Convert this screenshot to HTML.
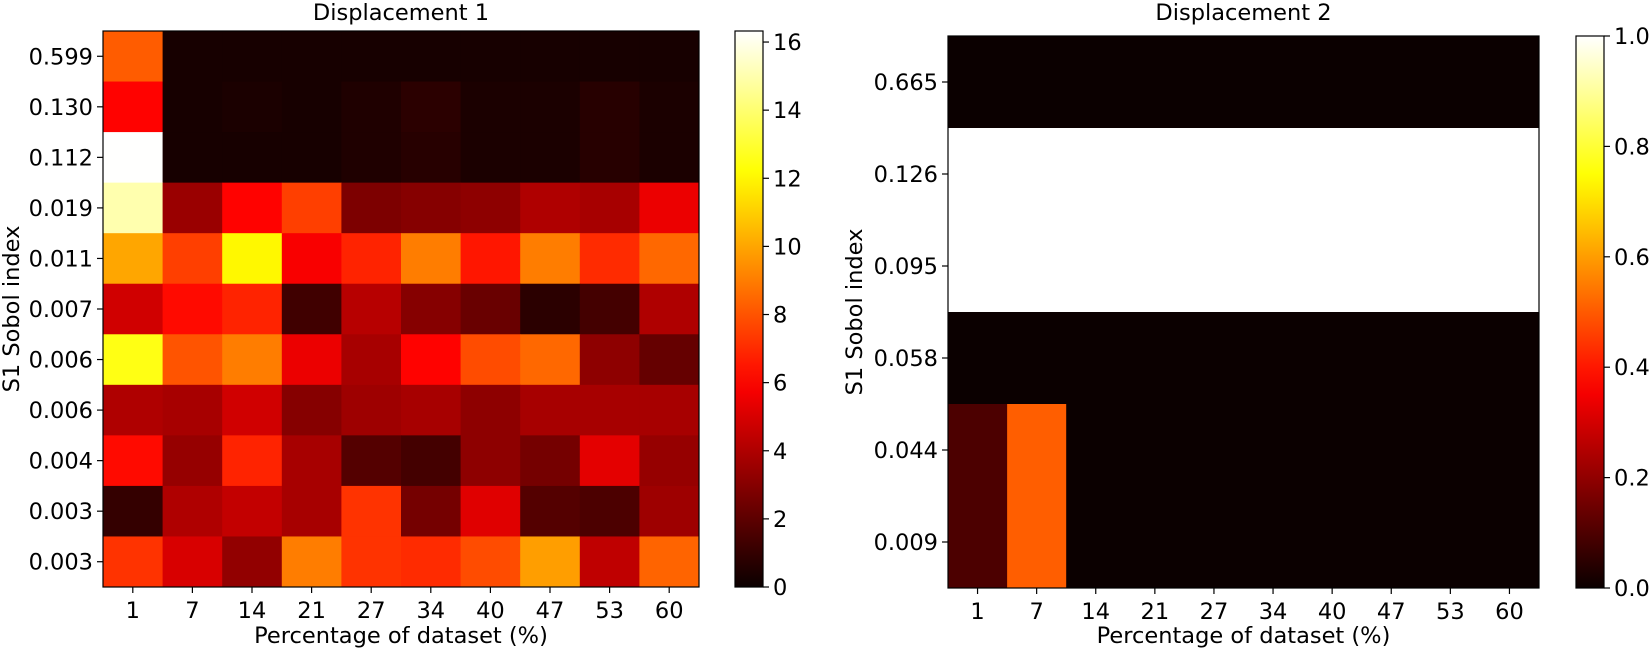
<!DOCTYPE html>
<html><head><meta charset="utf-8"><style>
body{margin:0;background:#fff}
svg text{font-family:"DejaVu Sans","Liberation Sans",sans-serif;font-size:22.5px;fill:#000}
</style></head><body>
<svg id="s" width="1650" height="650" xmlns="http://www.w3.org/2000/svg"></svg>
<script>
function hot(x){x=Math.max(0,Math.min(1,x));
var r=x<0.365?0.0416+(1-0.0416)*x/0.365:1;
var g=x<0.365?0:(x<0.746?(x-0.365)/0.381:1);
var b=x<0.746?0:(x-0.746)/0.254;
return 'rgb('+Math.round(r*255)+','+Math.round(g*255)+','+Math.round(b*255)+')';}
var s='';
function rect(x,y,w,h,f,ex){s+='<rect x="'+x+'" y="'+y+'" width="'+w+'" height="'+h+'" fill="'+f+'" '+(ex||'')+'/>';}
function txt(x,y,t,a,ex){s+='<text x="'+x+'" y="'+y+'" text-anchor="'+(a||'middle')+'" '+(ex||'')+'>'+t+'</text>';}
function line(x1,y1,x2,y2){s+='<line x1="'+x1+'" y1="'+y1+'" x2="'+x2+'" y2="'+y2+'" stroke="#000" stroke-width="1.2"/>';}
var xl=[1,7,14,21,27,34,40,47,53,60];
var V=[[8.2,.3,.3,.3,.3,.3,.3,.3,.3,.3],
[6,.3,.4,.3,.5,.8,.4,.4,.7,.4],
[16.3,.3,.3,.3,.5,.7,.4,.4,.7,.4],
[15,3.5,6,7.5,2.8,3,3.2,4,3.8,5.5],
[10,7.5,12,5.8,6.8,9,6.5,9,7,8.5],
[4.8,6.2,6.8,1.3,4.2,3,2.3,.8,1.4,4],
[12.5,8,9,5.5,3.8,6,7.8,8.5,3.2,2.2],
[4,3.8,4.8,3,3.6,3.8,3.2,3.8,3.8,3.8],
[6.2,3.4,6.8,3.8,1.8,1.4,3.2,2.6,5.3,3.4],
[1,4,4.5,3.8,7.2,2.6,5.2,1.8,1.6,3.6],
[7.2,5,3.3,9,7.2,7,7.8,9.8,4.4,8.4]];
var yl=['0.599','0.130','0.112','0.019','0.011','0.007','0.006','0.006','0.004','0.003','0.003'];
var L=103,T=31,W=596,H=556,cw=W/10,rh=H/11;
for(var r=0;r<11;r++)for(var c=0;c<10;c++)rect(L+c*cw,T+r*rh,cw+0.5,rh+0.5,hot(V[r][c]/16.32));
rect(L,T,W,H,'none','stroke="#000" stroke-width="1.2"');
for(var r=0;r<11;r++){var y=T+(r+.5)*rh;line(L-6,y,L,y);txt(L-10,y+8,yl[r],'end');}
for(var c=0;c<10;c++){var x=L+(c+.5)*cw;line(x,T+H,x,T+H+6);txt(x,618,xl[c]);}
txt(L+W/2,20,'Displacement 1');txt(L+W/2,643,'Percentage of dataset (%)');
txt(0,0,'S1 Sobol index','middle','transform="translate(19,'+(T+H/2)+') rotate(-90)"');
var g='<defs><linearGradient id="hg" x1="0" y1="1" x2="0" y2="0">';
for(var i=0;i<=20;i++)g+='<stop offset="'+(i/20)+'" stop-color="'+hot(i/20)+'"/>';
g+='</linearGradient></defs>';s=g+s;
rect(735,31,28,556,'url(#hg)','stroke="#000" stroke-width="1.2"');
for(var v=0;v<=16;v+=2){var y=587-v*34.06;line(763,y,769,y);txt(773,y+8,v,'start');}
var L2=948,T2=36,W2=591,H2=552,cw2=W2/10,rh2=H2/6;
rect(L2,T2,W2,H2,hot(0));
rect(L2,T2+rh2,W2,2*rh2,'#fff');
rect(L2,T2+4*rh2,cw2,2*rh2,'rgb(76,0,0)');
rect(L2+cw2,T2+4*rh2,cw2,2*rh2,'rgb(255,94,0)');
rect(L2,T2,W2,H2,'none','stroke="#000" stroke-width="1.2"');
var yl2=['0.665','0.126','0.095','0.058','0.044','0.009'];
for(var r=0;r<6;r++){var y=T2+(r+.5)*rh2;line(L2-6,y,L2,y);txt(L2-10,y+8,yl2[r],'end');}
for(var c=0;c<10;c++){var x=L2+(c+.5)*cw2;line(x,T2+H2,x,T2+H2+6);txt(x,619,xl[c]);}
txt(L2+W2/2,20,'Displacement 2');txt(L2+W2/2,643,'Percentage of dataset (%)');
txt(0,0,'S1 Sobol index','middle','transform="translate(862,'+(T2+H2/2)+') rotate(-90)"');
rect(1576,36,28,552,'url(#hg)','stroke="#000" stroke-width="1.2"');
for(var i=0;i<=5;i++){var y=588-i*0.2*552;line(1604,y,1610,y);txt(1614,y+8,(i*0.2).toFixed(1),'start');}
document.getElementById('s').innerHTML=s;
</script>
</body></html>
